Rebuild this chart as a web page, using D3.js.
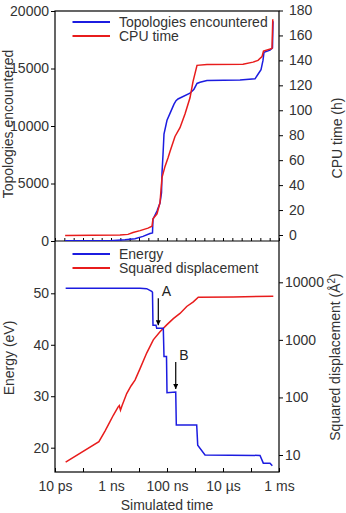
<!DOCTYPE html>
<html><head><meta charset="utf-8">
<script src="https://cdn.jsdelivr.net/npm/d3@7"></script>
<style>
html,body{margin:0;padding:0;background:#fff;}
svg{display:block;font-family:"Liberation Sans",Arial,Helvetica,sans-serif;}
</style></head>
<body>
<script>
// ---- data ----
// Top panel: topologies encountered (left axis) and CPU time in hours (right axis)
const topoTime = [2.3e-11,9.2e-10,3.16e-9,7.2e-9,1.39e-8,2.47e-8,3.03e-8,3.16e-8,4.39e-8,5.62e-8,6.37e-8,6.63e-8,7.2e-8,7.81e-8,1.0e-7,1.28e-7,1.78e-7,2.1e-7,2.47e-7,6.63e-7,9.2e-7,1.18e-6,1.51e-6,2.68e-6,4.05e-5,1.39e-4,1.78e-4,2.28e-4,2.68e-4,2.91e-4,4.77e-4,5.86e-4,6.1e-4];
const topoValue = [30,30,100,200,400,650,700,1900,2600,3300,4200,5900,7500,9300,10500,11100,11900,12200,12350,12850,13200,13700,13800,13950,14000,14100,14500,14900,15700,16400,16600,16800,19100];
const cpuTime = [2.3e-11,2.1e-9,4.05e-9,6.1e-9,1.09e-8,2.1e-8,2.91e-8,3.16e-8,4.39e-8,5.62e-8,6.63e-8,8.49e-8,1.09e-7,1.28e-7,1.93e-7,2.91e-7,4.39e-7,6.63e-7,8.49e-7,1.18e-6,2.68e-6,5.18e-5,1.18e-4,1.78e-4,2.47e-4,2.79e-4,5.62e-4,6.0e-4];
const cpuHours = [-0.4,0,0.5,2,3.5,5.5,7,13,17,26,46,55,62,67,79,86,97,110,123,136,136.8,137,138.6,140,143,147.5,149.5,173];
// Bottom panel: energy (left axis) and squared displacement (right, log axis)
const energyTime = [2.4e-11,1.09e-8,1.88e-8,2.84e-8,3.03e-8,3.16e-8,4.05e-8,4.29e-8,7.38e-8,7.81e-8,9.6e-8,1.0e-7,2.05e-7,2.15e-7,1.15e-6,1.25e-6,2.28e-6,2.1e-4,2.75e-4,4.77e-4,5.77e-4];
const energyValue = [51.0,51.0,50.9,50.4,50.2,43.8,43.8,43.2,43.2,37.7,37.7,30.7,30.8,24.4,24.4,20.5,18.6,18.5,17.0,17.0,16.5];
const dispTime = [2.4e-11,3.7e-10,6.1e-10,9.2e-10,1.21e-9,1.78e-9,1.98e-9,2.18e-9,2.47e-9,3.64e-9,5.18e-9,7.2e-9,1.09e-8,1.88e-8,3.24e-8,5.62e-8,9.75e-8,1.68e-7,2.91e-7,5.06e-7,8.69e-7,1.31e-6,2.28e-5,6.26e-4];
const dispValue = [7.5,17,26,38,49,68,72,60,72,117,158,200,316,590,1000,1380,1820,2340,2880,3800,4570,5500,5560,5750];
// annotations
const annoLabels = ["A","B"];
const annoTime = [4.89e-8,2.05e-7];
const annoEnergy = [43.2,30.8];
// ticks
const topoTicks = [0,5000,10000,15000,20000];
const cpuTicks = [0,20,40,60,80,100,120,140,160,180];
const energyTicks = [20,30,40,50];
const dispTicks = [10,100,1000,10000];
const timeTicks = [1e-11,1e-9,1e-7,1e-5,1e-3];
const timeTickLabels = ["10 ps","1 ns","100 ns","10 µs","1 ms"];

const BLUE = "#1c1ce0", RED = "#e81c1c";
const W = 346, H = 513;
const L = 55, R = 279, T1 = 11, MID = 241, B2 = 472;

const svg = d3.select("body").append("svg").attr("width", W).attr("height", H);

const x = d3.scaleLog().domain([1e-11, 1e-3]).range([L, R]);
const yTopo = d3.scaleLinear().domain([0, 20000]).range([MID, T1]);
const yCpu = d3.scaleLinear().domain([0, 180]).range([235, 10.5]);
const yE = d3.scaleLinear().domain([20, 50]).range([447.7, 293.3]);
const yD = d3.scaleLog().domain([10, 10000]).range([455, 282.3]);

const defs = svg.append("defs");
defs.append("clipPath").attr("id", "c1").append("rect").attr("x", L).attr("y", T1 - 4).attr("width", R - L).attr("height", MID - T1 + 4);
defs.append("clipPath").attr("id", "c2").append("rect").attr("x", L).attr("y", MID).attr("width", R - L).attr("height", B2 - MID);
defs.append("marker").attr("id", "ah").attr("viewBox", "0 0 10 10").attr("refX", 10).attr("refY", 5)
  .attr("markerWidth", 5).attr("markerHeight", 5).attr("markerUnits", "userSpaceOnUse").attr("orient", "auto")
  .append("path").attr("d", "M0,0 L10,5 L0,10 Z").attr("fill", "#000");

function styleAxis(g) {
  g.selectAll("path.domain").remove();
  g.selectAll("line").attr("stroke", "#000").attr("stroke-width", 1);
  g.selectAll("text").attr("font-size", 14).attr("fill", "#333").attr("font-family", "Liberation Sans, Arial, sans-serif");
}

// axes top panel
svg.append("g").attr("transform", `translate(${L},0)`)
  .call(d3.axisLeft(yTopo).tickValues(topoTicks).tickFormat(d3.format("d")).tickSize(4).tickPadding(2)).call(styleAxis);
svg.append("g").attr("transform", `translate(${R},0)`)
  .call(d3.axisRight(yCpu).tickValues(cpuTicks).tickFormat(d3.format("d")).tickSize(4).tickPadding(6)).call(styleAxis);
// dense ticks along divider (pointing up)
const divTicks = d3.range(0, 25).map(i => Math.pow(10, -11 + i / 3));
svg.append("g").attr("transform", `translate(0,${MID})`)
  .call(d3.axisTop(x).tickValues(divTicks).tickFormat("").tickSize(3)).call(styleAxis);

// axes bottom panel
svg.append("g").attr("transform", `translate(${L},0)`)
  .call(d3.axisLeft(yE).tickValues(energyTicks).tickSize(4).tickPadding(2)).call(styleAxis);
svg.append("g").attr("transform", `translate(${R},0)`)
  .call(d3.axisRight(yD).tickValues(dispTicks).tickFormat(d3.format("d")).tickSize(4).tickPadding(2)).call(styleAxis);
const decTicks = d3.range(-11, -2).map(e => Math.pow(10, e));
svg.append("g").attr("transform", `translate(0,${B2})`)
  .call(d3.axisBottom(x).tickValues(decTicks).tickFormat("").tickSize(-4)).call(styleAxis);
svg.append("g").attr("transform", `translate(0,${B2})`)
  .call(d3.axisBottom(x).tickValues(timeTicks).tickFormat((d, i) => timeTickLabels[i]).tickSize(0).tickPadding(9)).call(styleAxis);

// frame
svg.append("rect").attr("x", L).attr("y", T1).attr("width", R - L).attr("height", B2 - T1)
  .attr("fill", "none").attr("stroke", "#000").attr("stroke-width", 1.2);
svg.append("line").attr("x1", L).attr("x2", R).attr("y1", MID).attr("y2", MID).attr("stroke", "#000").attr("stroke-width", 1.2);

// lines
const p1 = svg.append("g").attr("clip-path", "url(#c1)");
p1.append("path").datum(d3.zip(topoTime, topoValue)).attr("fill", "none").attr("stroke", BLUE).attr("stroke-width", 1.5)
  .attr("d", d3.line().x(d => x(d[0])).y(d => yTopo(d[1])));
p1.append("path").datum(d3.zip(cpuTime, cpuHours)).attr("fill", "none").attr("stroke", RED).attr("stroke-width", 1.5)
  .attr("d", d3.line().x(d => x(d[0])).y(d => yCpu(d[1])));

const p2 = svg.append("g").attr("clip-path", "url(#c2)");
p2.append("path").datum(d3.zip(dispTime, dispValue)).attr("fill", "none").attr("stroke", RED).attr("stroke-width", 1.5)
  .attr("d", d3.line().x(d => x(d[0])).y(d => yD(d[1])));
p2.append("path").datum(d3.zip(energyTime, energyValue)).attr("fill", "none").attr("stroke", BLUE).attr("stroke-width", 1.5)
  .attr("d", d3.line().x(d => x(d[0])).y(d => yE(d[1])));

// annotations
annoLabels.forEach((lab, i) => {
  const ax = x(annoTime[i]), ay = yE(annoEnergy[i]) - 3;
  svg.append("line").attr("x1", ax).attr("x2", ax).attr("y1", ay - 27).attr("y2", ay)
    .attr("stroke", "#000").attr("stroke-width", 1.2).attr("marker-end", "url(#ah)");
  svg.append("text").attr("x", ax + 3.5).attr("y", ay - 29).attr("font-size", 14).attr("fill", "#222").text(lab);
});

// legends
function legend(y0, items) {
  items.forEach((it, i) => {
    const yy = y0 + i * 14;
    svg.append("line").attr("x1", 72.5).attr("x2", 110).attr("y1", yy).attr("y2", yy).attr("stroke", it[1]).attr("stroke-width", 2);
    svg.append("text").attr("x", 119).attr("y", yy + 5).attr("font-size", 14).attr("fill", "#333").text(it[0]);
  });
}
legend(22, [["Topologies encountered", BLUE], ["CPU time", RED]]);
legend(254, [["Energy", BLUE], ["Squared displacement", RED]]);

// axis titles
function vtitle(xp, yc, txt) {
  return svg.append("text").attr("transform", `translate(${xp},${yc}) rotate(-90)`).attr("text-anchor", "middle")
    .attr("font-size", 14).attr("fill", "#333").text(txt);
}
vtitle(13, 124, "Topologies encountered");
vtitle(342, 138, "CPU time (h)");
vtitle(14, 358, "Energy (eV)");
const sd = vtitle(340, 357, "Squared displacement (Å");
sd.append("tspan").attr("font-size", 10).attr("dy", -5).text("2");
sd.append("tspan").attr("dy", 5).text(")");
svg.append("text").attr("x", 167).attr("y", 510).attr("text-anchor", "middle").attr("font-size", 14).attr("fill", "#333").text("Simulated time");
</script>
</body></html>
